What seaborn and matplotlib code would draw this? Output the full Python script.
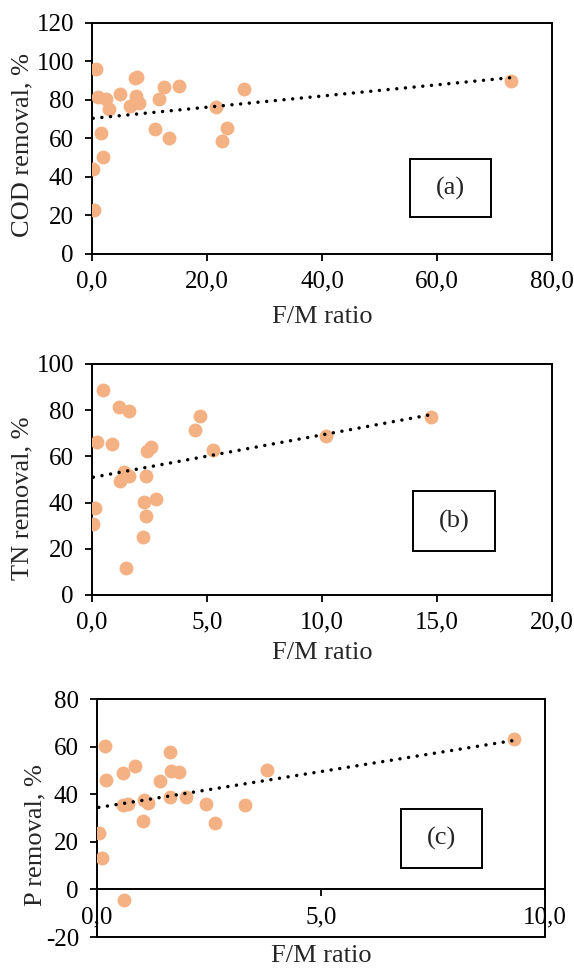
import numpy as np
import pandas as pd
import matplotlib
matplotlib.use("Agg")
import matplotlib.pyplot as plt
import seaborn as sns
from matplotlib.ticker import FuncFormatter, MultipleLocator
from matplotlib.patches import Rectangle

# (a) COD removal vs F/M ratio
fm_a  = [0.76, 1.08, 2.5, 2.9, 4.8, 6.6, 7.4, 7.9, 7.7, 8.1, 11.6, 12.6, 15.1,
         11.0, 13.4, 1.6, 1.85, 0.2, 0.3, 21.6, 22.6, 23.5, 26.4, 72.8]
cod_a = [95.9, 81.8, 80.6, 75.2, 83.0, 77.0, 91.6, 92.1, 82.1, 78.3, 80.4, 86.6, 87.3,
         64.7, 60.3, 62.8, 50.4, 43.9, 22.7, 76.3, 58.9, 65.4, 85.9, 89.7]

# (b) TN removal vs F/M ratio
fm_b = [0.48, 1.16, 1.61, 0.22, 0.88, 1.41, 1.62, 1.2, 2.33, 2.38, 2.57, 2.25,
        2.8, 2.35, 2.22, 1.49, 0.14, 0.06, 4.47, 4.69, 5.24, 10.18, 14.75]
tn_b = [88.9, 81.4, 79.8, 66.0, 65.2, 53.3, 51.7, 49.4, 51.7, 62.4, 64.0, 40.2,
        41.6, 34.0, 25.3, 11.8, 37.7, 30.9, 71.5, 77.3, 62.6, 68.8, 77.0]

# (c) P removal vs F/M ratio
fm_c = [0.18, 0.19, 0.04, 0.12, 0.58, 0.84, 0.57, 0.69, 0.61, 1.02, 1.04, 1.13,
        1.41, 1.63, 1.65, 1.84, 1.63, 1.98, 2.43, 2.64, 3.31, 3.80, 9.31]
p_c  = [60.4, 46.1, 23.9, 13.1, 48.9, 52.0, 35.4, 36.0, -4.5, 28.9, 37.6, 36.5,
        45.4, 57.7, 49.9, 49.2, 39.0, 38.8, 35.8, 28.1, 35.4, 50.3, 63.3]

ylabels = ["COD removal, %", "TN removal, %", "P removal, %"]
tags    = ["(a)", "(b)", "(c)"]

sns.set_style("white")
plt.rcParams["font.family"] = ["Liberation Serif", "DejaVu Serif"]
plt.rcParams["axes.unicode_minus"] = False

DOT = "#F4B183"
FS  = 18     # tick labels
LFS = 19     # axis titles

fig = plt.figure(figsize=(5.74, 9.69), dpi=100)
ax_a = fig.add_axes([0.1603, 0.7379, 0.8014, 0.2384])
ax_b = fig.add_axes([0.1603, 0.3860, 0.8014, 0.2384])
ax_c = fig.add_axes([0.1690, 0.0330, 0.7805, 0.2456])

panels = [
    (ax_a, fm_a, cod_a, (0, 80), 20, (0, 120), 20, (0.691, 0.158, 0.177, 0.254), -0.128, 0.47, -0.225),
    (ax_b, fm_b, tn_b, (0, 20), 5, (0, 100), 20, (0.697, 0.192, 0.180, 0.256), -0.128, 0.42, -0.205),
    (ax_c, fm_c, p_c, (0, 10), 5, (-20, 80), 20, (0.678, 0.292, 0.182, 0.245), -0.112, 0.43, -0.035),
]

comma = FuncFormatter(lambda v, pos: f"{v:.1f}".replace(".", ","))
whole = FuncFormatter(lambda v, pos: f"{v:.0f}")

for i, (ax, x, y, xl, xs, yl, ys, box, ylx, yly, xly) in enumerate(panels):
    df = pd.DataFrame({"fm": x, "rem": y})
    sns.regplot(data=df, x="fm", y="rem", ax=ax, ci=None,
                scatter_kws=dict(s=100, color=DOT, linewidths=0, alpha=1, zorder=3),
                line_kws=dict(color="black", lw=2.5, linestyle=(0, (0.01, 2.5)),
                              dash_capstyle="round", zorder=4))
    ax.set_xlim(*xl)
    ax.set_ylim(*yl)
    ax.xaxis.set_major_locator(MultipleLocator(xs))
    ax.yaxis.set_major_locator(MultipleLocator(ys))
    ax.xaxis.set_major_formatter(comma)
    ax.yaxis.set_major_formatter(whole)
    ax.tick_params(axis="x", bottom=True, direction="out", length=5, width=1.3,
                   pad=7, labelsize=FS, colors="black")
    ax.tick_params(axis="y", left=True, direction="out", length=5, width=1.3,
                   pad=8, labelsize=FS, colors="black")
    for sp in ax.spines.values():
        sp.set_visible(True)
        sp.set_color("black")
        sp.set_linewidth(1.4)
    ax.set_xlabel("F/M ratio", fontsize=LFS)
    ax.set_ylabel(ylabels[i], fontsize=LFS)
    ax.xaxis.set_label_coords(0.5, xly)
    ax.yaxis.set_label_coords(ylx, yly)

    bx, by, bw, bh = box
    ax.add_patch(Rectangle((bx, by), bw, bh, transform=ax.transAxes,
                           fill=False, edgecolor="black", lw=1.4, zorder=5))
    ax.text(bx + bw / 2, by + bh / 2, tags[i], transform=ax.transAxes,
            ha="center", va="center", fontsize=LFS, zorder=6)

# (c) has its horizontal axis at zero, plot area border stays at -20
ax_c.spines["bottom"].set_position(("data", 0))
ax_c.axhline(-20, color="black", lw=1.4, clip_on=False, zorder=5)

fig.savefig("out.png", dpi=100)
